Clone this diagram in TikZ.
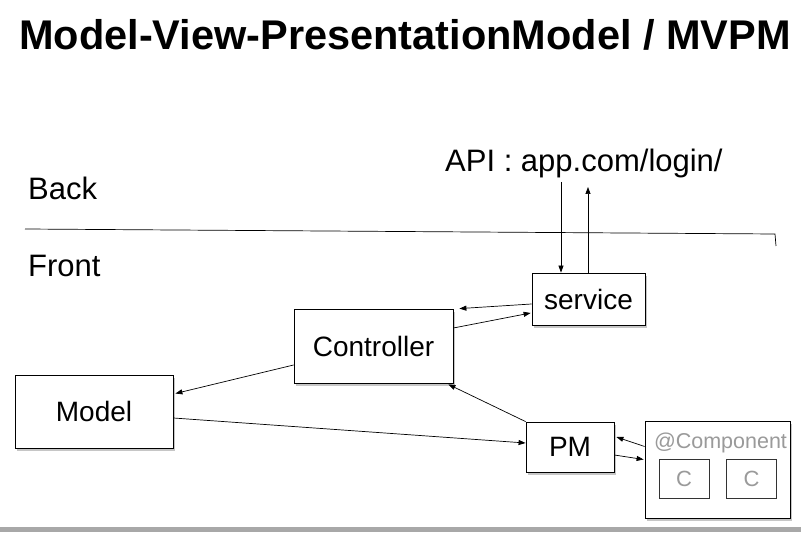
\documentclass[tikz,border=0pt]{standalone}
\usepackage{fontspec}
\setmainfont{Liberation Sans}
\usetikzlibrary{arrows.meta,shadows}
\definecolor{compgray}{HTML}{9A9A9A}
\definecolor{bargray}{HTML}{A8A8A8}
\tikzset{
    >={Triangle[length=7pt,width=5pt]},
    box/.style={draw,fill=white,line width=0.8pt,inner sep=0pt,
        font=\fontsize{28}{30}\selectfont,
        drop shadow={shadow xshift=2pt,shadow yshift=-3pt,opacity=0.45}},
    cbox/.style={draw=black!80,line width=0.7pt,inner sep=0pt,
        minimum width=50pt,minimum height=39pt,text=compgray,
        font=\fontsize{22}{24}\selectfont},
    side/.style={anchor=base west,inner sep=0pt,font=\fontsize{31}{33}\selectfont},
    conn/.style={->,line width=0.7pt}
}
\begin{document}
\begin{tikzpicture}[x=1pt,y=-1pt]
    \useasboundingbox (0,0) rectangle (801,534);
    \fill[bargray] (0,527) rectangle (801,532);

    \node[anchor=base,inner sep=0pt,font=\fontsize{41.5}{44}\selectfont\bfseries]
        (title) at (405,50) {Model-View-PresentationModel / MVPM};

    \node[side] (back) at (28,200) {Back};
    \node[side] (front) at (28,277) {Front};
    \node[side] (api) at (445,172) {API : app.com/login/};

    % back / front divider
    \draw[line width=0.7pt] (25,229) -- (775,234) -- (776,246);

    \node[box,minimum width=113pt,minimum height=52pt] (service) at (588.5,299) {service};
    \node[box,minimum width=159pt,minimum height=74pt] (ctrl) at (373.5,346) {Controller};
    \node[box,minimum width=158pt,minimum height=73pt] (model) at (94,411.5) {Model};
    \node[box,minimum width=88pt,minimum height=50pt] (pm) at (570,447) {PM};
    \node[box,minimum width=145pt,minimum height=97pt] (comp) at (717.5,469.5) {};
    \node[anchor=base,inner sep=0pt,text=compgray,font=\fontsize{21.5}{23}\selectfont]
        (comptitle) at (720.5,449) {@Component};
    \node[cbox] (ca) at (684,478.5) {C};
    \node[cbox] (cb) at (751.5,478.5) {C};

    \coordinate (apiout) at (561,182);
    \coordinate (apiin) at (588,187);
    \draw[conn] (apiout) -- ([xshift=-27.5pt]service.north);
    \draw[conn] ([xshift=-0.5pt]service.north) -- (apiin);

    \draw[conn] ([yshift=-5pt]service.west) -- ([xshift=6pt]ctrl.north east);
    \draw[conn] ([yshift=18pt]ctrl.east) -- ([xshift=-1pt,yshift=-14pt]service.west);
    \draw[conn] ([yshift=-19pt]ctrl.west) -- ([xshift=2pt,yshift=18pt]model.east);
    \draw[conn] ([yshift=-6.5pt]model.east) -- ([yshift=4pt]pm.west);
    \draw[conn] (pm.north west) -- ([xshift=-5pt,yshift=-1pt]ctrl.south east);
    \draw[conn] ([yshift=23pt]comp.west) -- ([xshift=2pt,yshift=10pt]pm.east);
    \draw[conn] ([yshift=-8pt]pm.east) -- ([xshift=-1pt,yshift=10pt]comp.west);
\end{tikzpicture}
\end{document}
